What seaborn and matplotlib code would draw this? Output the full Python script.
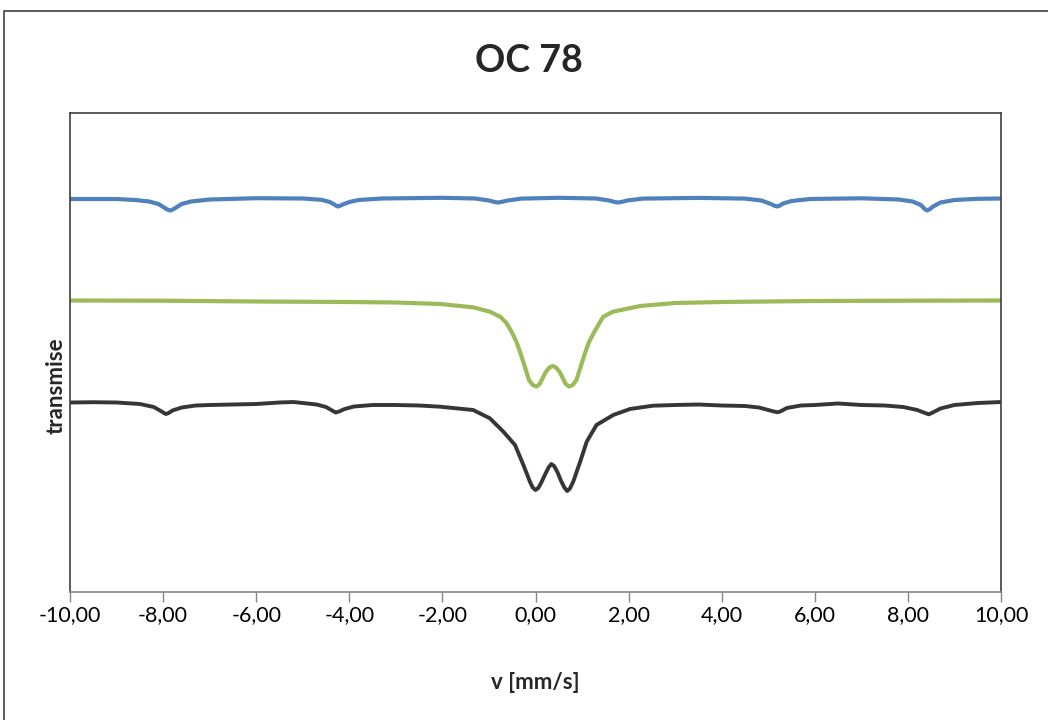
import matplotlib
matplotlib.use("Agg")
import matplotlib.pyplot as plt
from matplotlib.patches import Rectangle
from matplotlib.ticker import FixedLocator
import pandas as pd
import seaborn as sns

# Sextet component (magnetic phase), velocity in mm/s, transmission in arbitrary units
sextet_v = [-10.0, -9.0, -8.6, -8.3, -8.1, -7.98, -7.91, -7.85, -7.79, -7.72, -7.6, -7.4, -7.0,
            -6.0, -5.0, -4.6, -4.42, -4.32, -4.28, -4.24, -4.2, -4.14, -4.0, -3.8, -3.3,
            -2.0, -1.3, -1.0, -0.88, -0.81, -0.74, -0.6, -0.3, 0.5, 1.3, 1.58, 1.70, 1.77,
            1.84, 1.97, 2.3, 3.5, 4.5, 4.85, 5.03, 5.14, 5.19, 5.24, 5.32, 5.5, 5.9, 7.0,
            7.8, 8.1, 8.28, 8.36, 8.41, 8.47, 8.54, 8.7, 9.0, 9.5, 10.0]
sextet_t = [393.0, 393.0, 392.0, 390.5, 388.0, 384.5, 382.5, 381.5, 382.5, 384.5, 388.0, 390.5, 392.5,
            393.8, 393.5, 392.2, 390.0, 387.5, 386.2, 385.5, 386.2, 387.5, 390.0, 392.0, 393.5,
            394.2, 393.5, 391.5, 390.0, 389.5, 390.0, 391.5, 393.4, 394.2, 393.5, 391.5, 390.0, 389.5,
            390.0, 391.5, 393.4, 394.1, 393.4, 391.5, 388.5, 386.2, 385.5, 386.2, 388.5, 391.0, 393.0, 393.7,
            392.5, 390.5, 387.0, 383.0, 381.5, 382.8, 385.5, 389.5, 392.0, 393.2, 393.5]

# Doublet component (paramagnetic phase)
doublet_v = [-10.0, -8.0, -6.0, -4.0, -3.0, -2.05, -1.34, -0.98, -0.75, -0.62, -0.5, -0.40,
             -0.31, -0.23, -0.14, -0.06, 0.02, 0.09, 0.15, 0.22, 0.30, 0.37, 0.44, 0.52,
             0.59, 0.65, 0.72, 0.80, 0.88, 0.97, 1.05, 1.14, 1.25, 1.45, 1.66, 2.25,
             3.0, 4.0, 6.0, 8.0, 10.0]
doublet_t = [291.5, 291.3, 290.5, 290.0, 289.5, 288.0, 284.7, 280.3, 275.0, 268.7, 259.0, 249.0,
             237.0, 225.3, 212.0, 207.0, 205.5, 208.0, 213.5, 220.0, 224.5, 226.0, 224.5, 220.0,
             213.5, 208.0, 205.5, 207.0, 212.0, 225.3, 237.0, 249.0, 259.0, 275.0, 280.3, 286.0,
             289.0, 290.0, 291.0, 291.3, 291.5]

# Measured spectrum
meas_v = [-10.0, -9.5, -9.0, -8.5, -8.2, -8.05, -7.98, -7.94, -7.88, -7.8, -7.6, -7.3, -7.0,
          -6.5, -6.0, -5.5, -5.2, -5.0, -4.7, -4.5, -4.35, -4.29, -4.22, -4.1, -3.9, -3.5,
          -3.0, -2.5, -2.05, -1.34, -0.98, -0.69, -0.44, -0.26, -0.12, -0.06, 0.0,
          0.06, 0.12, 0.20, 0.28, 0.34, 0.40, 0.47, 0.55, 0.62, 0.68, 0.74, 0.81,
          0.96, 1.10, 1.31, 1.67, 2.03, 2.52,
          3.0, 3.5, 4.0, 4.5, 4.8, 5.0, 5.14, 5.2, 5.27, 5.4, 5.7, 6.0, 6.5, 7.0, 7.5,
          7.9, 8.2, 8.38, 8.45, 8.52, 8.7, 9.0, 9.5, 10.0]
meas_t = [189.5, 189.8, 189.5, 188.0, 185.0, 181.0, 179.0, 178.0, 179.0, 181.5, 184.5, 186.5, 187.0,
          187.5, 188.0, 189.5, 190.0, 189.0, 187.5, 185.0, 181.0, 179.5, 180.5, 183.0, 185.5, 187.0,
          187.0, 186.5, 185.3, 182.0, 173.7, 160.3, 147.0, 127.0, 110.3, 104.5, 102.0,
          104.0, 109.0, 117.0, 124.5, 128.0, 126.0, 120.0, 111.0, 104.5, 101.0, 103.5, 110.3,
          130.3, 150.3, 167.0, 177.0, 183.0, 186.3,
          187.0, 187.5, 186.5, 186.0, 184.5, 182.0, 180.3, 179.7, 180.8, 184.0, 186.5, 187.0, 188.5, 187.0, 186.5,
          185.0, 182.0, 178.8, 177.7, 179.2, 183.5, 187.0, 189.0, 190.0]

tick_values = [-10, -8, -6, -4, -2, 0, 2, 4, 6, 8, 10]
tick_labels = ["-10,00", "-8,00", "-6,00", "-4,00", "-2,00", "0,00",
               "2,00", "4,00", "6,00", "8,00", "10,00"]

sns.set_style("white")
plt.rcParams["font.family"] = ["Lato", "DejaVu Sans"]

fig = plt.figure(figsize=(10.48, 7.2), dpi=100)
ax = fig.add_axes([70 / 1048, 1 - 592 / 720, 931 / 1048, 479 / 720])

df_s = pd.DataFrame({"v": sextet_v, "t": sextet_t})
df_d = pd.DataFrame({"v": doublet_v, "t": doublet_t})
df_m = pd.DataFrame({"v": meas_v, "t": meas_t})

sns.lineplot(data=df_s, x="v", y="t", ax=ax, color="#4F81BD", lw=3.0, sort=False)
sns.lineplot(data=df_d, x="v", y="t", ax=ax, color="#9BBB59", lw=3.0, sort=False)
sns.lineplot(data=df_m, x="v", y="t", ax=ax, color="#363636", lw=2.8, sort=False)

ax.set_xlim(-10, 10)
ax.set_ylim(0, 479)
ax.xaxis.set_major_locator(FixedLocator(tick_values))
ax.set_xticklabels(tick_labels, fontsize=15.5, color="black")
ax.set_yticks([])
ax.tick_params(axis="x", direction="out", length=7.5, width=1, color="#868686",
               pad=2, bottom=True)

for side, sp in ax.spines.items():
    sp.set_color("#3F3F3F")
    sp.set_linewidth(1.2)
ax.spines["bottom"].set_color("#868686")

ax.set_xlabel("v [mm/s]", fontsize=16, fontweight="bold", labelpad=34)
ax.set_ylabel("transmise", fontsize=16, fontweight="bold")
ax.yaxis.set_label_coords(-0.004, (592 - 386) / 479)
fig.text(529 / 1048, 1 - 61 / 720, "OC 78", ha="center", va="center",
         fontsize=27, fontweight="bold")

# outer chart border
fig.add_artist(Rectangle((4 / 1048, -0.2), 1.2, 0.2 + (1 - 11 / 720),
                         transform=fig.transFigure, fill=False,
                         edgecolor="#404040", lw=1.2))

fig.savefig("out.png", dpi=100)
